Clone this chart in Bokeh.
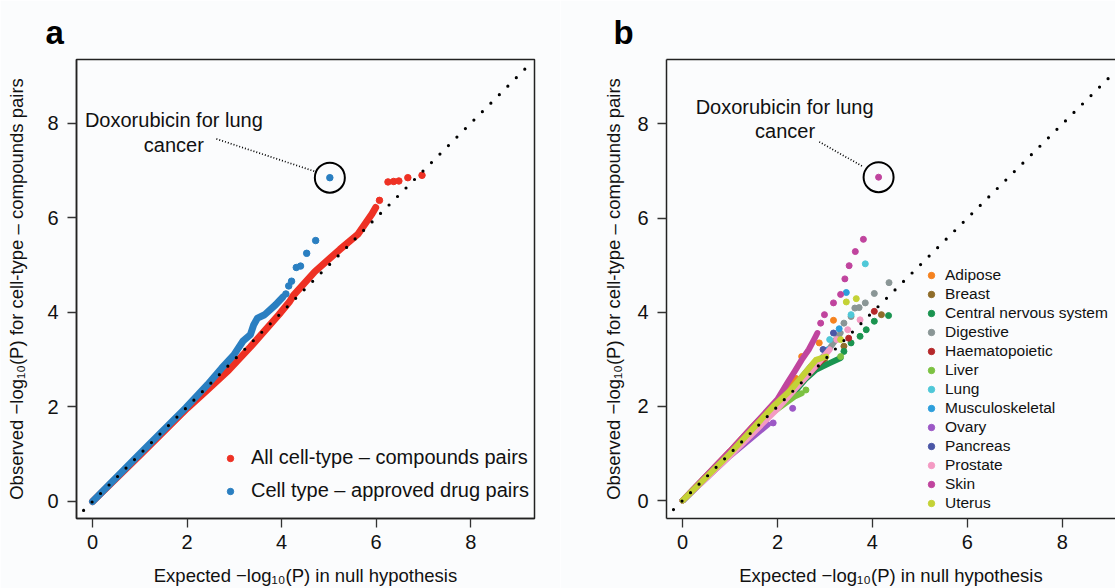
from bokeh.plotting import figure
from bokeh.layouts import row
from bokeh.models import Range1d, Legend, LegendItem, LinearAxis, FixedTicker
from bokeh.core.properties import value
from bokeh.embed import file_html
from bokeh.resources import INLINE

FONT = "Liberation Sans"
BG = "#fbfcfd"
TICKS = [0, 2, 4, 6, 8]
DIAG = [-0.19, 9.23]
YLABEL = "Observed \u2212log\u2081\u2080(P) for cell-type \u2013 compounds pairs"
XLABEL = "Expected \u2212log\u2081\u2080(P) in null hypothesis"

# ---------------- Panel a data ----------------
all_line_x = [0, 1.0, 2.0, 2.43, 2.88, 3.34, 3.94, 4.17, 4.25, 4.70, 5.23, 5.61, 5.91, 5.99]
all_line_y = [0, 0.98, 1.97, 2.36, 2.78, 3.27, 3.95, 4.23, 4.36, 4.86, 5.33, 5.65, 6.08, 6.22]
all_pts_x = [6.07, 6.25, 6.37, 6.48, 6.67, 6.97]
all_pts_y = [6.37, 6.76, 6.77, 6.78, 6.85, 6.90]

drug_line_x = [0, 1.0, 1.97, 2.43, 2.73, 2.99, 3.18, 3.34, 3.41, 3.49, 3.64, 3.87, 4.02]
drug_line_y = [0, 1.01, 1.98, 2.47, 2.82, 3.10, 3.39, 3.53, 3.74, 3.88, 3.95, 4.16, 4.32]
drug_pts_x = [4.09, 4.15, 4.21, 4.31, 4.40, 4.53, 4.72, 5.02]
drug_pts_y = [4.39, 4.56, 4.66, 4.95, 4.98, 5.25, 5.52, 6.85]

dox_a = (5.02, 6.85)
ann_a_x = [1.72, 1.72]
ann_a_y = [8.07, 7.55]
lead_a_x = [2.62, 4.74]
lead_a_y = [7.67, 6.97]

# ---------------- Panel b data ----------------
tissues = ["Adipose", "Breast", "Central nervous system", "Digestive", "Haematopoietic",
           "Liver", "Lung", "Musculoskeletal", "Ovary", "Pancreas", "Prostate", "Skin", "Uterus"]
colors = ["#f5821f", "#8f6d2a", "#1a9450", "#8a9696", "#b5282a", "#7cc242", "#4fc8d8",
          "#2d9fdc", "#9c58c6", "#4a56a6", "#f49ac3", "#c0449e", "#c4d236"]

dense_x = [
    [0, 1.0, 1.5, 2.0, 2.4],
    [0, 1.5, 2.5, 3.0],
    [0, 1.0, 2.0, 2.28, 2.58, 2.81, 3.10, 3.33],
    [0, 2.0, 3.0, 3.33],
    [0, 2.0, 3.0],
    [0, 1.8, 2.36, 2.51],
    [0, 2.0, 2.8],
    [0, 2.0, 2.9],
    [0, 1.0, 1.8],
    [0, 2.0, 2.7],
    [0, 1.0, 2.0, 2.8, 3.1],
    [0, 1.0, 1.5, 2.0, 2.21, 2.36, 2.51, 2.66, 2.77, 2.84],
    [0, 1.0, 1.91, 2.28, 2.58, 2.81, 3.03],
]
dense_y = [
    [0, 1.05, 1.6, 2.1, 2.6],
    [0, 1.5, 2.55, 3.0],
    [0, 1.0, 2.0, 2.21, 2.57, 2.78, 2.92, 3.03],
    [0, 2.05, 3.1, 3.56],
    [0, 2.0, 3.05],
    [0, 1.8, 2.21, 2.28],
    [0, 2.05, 2.9],
    [0, 2.0, 3.0],
    [0, 0.95, 1.62],
    [0, 2.0, 2.85],
    [0, 0.95, 1.95, 2.85, 3.21],
    [0, 1.05, 1.6, 2.15, 2.50, 2.74, 2.99, 3.21, 3.42, 3.56],
    [0, 1.0, 2.0, 2.35, 2.71, 2.99, 3.06],
]
tail_x = [
    [2.51, 2.88, 3.18],
    [3.40, 4.19],
    [3.40, 3.55, 3.74, 3.87, 4.04, 4.34],
    [3.40, 3.55, 3.63, 3.72, 3.85, 4.04, 4.35],
    [3.50, 4.04],
    [2.60, 3.33],
    [3.10, 3.55, 3.85],
    [3.05, 3.30, 3.45],
    [1.91, 2.32],
    [2.96, 3.18],
    [3.25, 3.48, 3.74],
    [2.91, 2.99, 3.18, 3.33, 3.42, 3.51, 3.64, 3.81, 4.13],
    [3.33, 3.45, 3.66],
]
tail_y = [
    [3.06, 3.35, 3.83],
    [3.28, 3.95],
    [3.17, 3.35, 3.49, 3.63, 3.81, 3.93],
    [3.77, 3.91, 4.09, 4.10, 4.20, 4.40, 4.63],
    [3.45, 4.02],
    [2.35, 3.06],
    [3.42, 3.95, 5.03],
    [3.20, 3.65, 4.42],
    [1.65, 1.96],
    [3.21, 3.56],
    [3.42, 3.63, 3.84],
    [3.77, 3.95, 4.20, 4.38, 4.71, 4.99, 5.29, 5.55, 6.87],
    [3.42, 4.22, 4.29],
]
dox_b = (4.13, 6.87)
ann_b_x = [2.15, 2.16]
ann_b_y = [8.36, 7.86]
lead_b_x = [2.88, 3.81]
lead_b_y = [7.62, 7.09]

ANN_TEXT = ["Doxorubicin for lung", "cancer"]


def style(p, ylab_standoff):
    p.xgrid.visible = False
    p.ygrid.visible = False
    for ax in (p.xaxis[0], p.yaxis[0]):
        ax.ticker = FixedTicker(ticks=TICKS)
        ax.major_tick_in = 0
        ax.major_tick_out = 9
        ax.major_tick_line_color = "#333333"
        ax.major_tick_line_width = 1.3
        ax.minor_tick_line_color = None
        ax.axis_line_color = "#222222"
        ax.axis_line_width = 1.5
        ax.major_label_text_font = FONT
        ax.major_label_text_font_size = "20px"
        ax.major_label_text_color = "#111111"
        ax.axis_label_text_font = FONT
        ax.axis_label_text_font_size = "18.5px"
        ax.axis_label_text_font_style = "normal"
        ax.axis_label_text_color = "#111111"
    p.xaxis[0].axis_label = XLABEL
    p.yaxis[0].axis_label = YLABEL
    p.xaxis[0].major_label_standoff = 7
    p.xaxis[0].axis_label_standoff = 13
    p.yaxis[0].major_label_standoff = 9
    p.yaxis[0].axis_label_standoff = ylab_standoff
    p.title.text_font = FONT
    p.title.text_font_size = "33px"
    p.title.text_font_style = "bold"
    p.title.align = "left"
    p.title.text_color = "#000000"
    p.title.standoff = 17


def diag(p):
    p.line(DIAG, DIAG, line_color="black", line_width=3.2, line_dash="0 12", line_cap="round")


def annotate(p, dox, ax_, ay_, lx, ly):
    p.line(lx, ly, line_color="black", line_width=1.7, line_dash="1 2")
    p.scatter([dox[0]], [dox[1]], size=30, fill_color=None, line_color="black", line_width=2)
    p.text(ax_, ay_, text=ANN_TEXT, text_align="center", text_baseline="middle",
           text_font=value(FONT), text_font_size="20px", text_color="#111111")


# ---------------- Panel a ----------------
pa = figure(width=560, height=588, title="a",
            x_range=Range1d(-0.34, 9.35), y_range=Range1d(-0.36, 9.35),
            output_backend="svg", toolbar_location=None,
            min_border_left=76, min_border_right=26, min_border_top=59, min_border_bottom=70,
            background_fill_color=BG, border_fill_color=BG)
style(pa, 17)
pa.outline_line_color = "#222222"
pa.outline_line_width = 1.5
pa.title.offset = -31

RED = "#ee3124"
BLUE = "#2a7fc1"
pa.line(all_line_x, all_line_y, line_color=RED, line_width=7, line_cap="round", line_join="round")
r_red = pa.scatter(all_pts_x, all_pts_y, size=6.5, color=RED)
pa.line(drug_line_x, drug_line_y, line_color=BLUE, line_width=7, line_cap="round", line_join="round")
r_blue = pa.scatter(drug_pts_x, drug_pts_y, size=6.5, color=BLUE)
diag(pa)
annotate(pa, dox_a, ann_a_x, ann_a_y, lead_a_x, lead_a_y)

leg_a = Legend(items=[LegendItem(label="All cell-type \u2013 compounds pairs", renderers=[r_red]),
                      LegendItem(label="Cell type \u2013 approved drug pairs", renderers=[r_blue])],
               location=(146, 16), padding=0, margin=0, spacing=10,
               glyph_width=16, glyph_height=22, label_height=22, label_standoff=13,
               label_text_font=FONT, label_text_font_size="20px", label_text_color="#111111",
               background_fill_alpha=0, border_line_color=None)
pa.add_layout(leg_a)

# ---------------- Panel b ----------------
pb = figure(width=555, height=588, title="b",
            x_range=Range1d(-0.337, 9.12), y_range=Range1d(-0.38, 9.37),
            output_backend="svg", toolbar_location=None,
            min_border_left=106, min_border_right=0, min_border_top=58, min_border_bottom=67,
            background_fill_color=BG, border_fill_color=BG)
style(pb, 10)
pb.outline_line_color = None
pb.title.offset = -53
top_axis = LinearAxis(ticker=FixedTicker(ticks=[]), major_label_text_font_size="0px",
                      major_tick_line_color=None, minor_tick_line_color=None,
                      axis_line_color="#222222", axis_line_width=1.5)
pb.add_layout(top_axis, "above")

items_b = []
for name, c, dx, dy, tx, ty in zip(tissues, colors, dense_x, dense_y, tail_x, tail_y):
    pb.line(dx, dy, line_color=c, line_width=6, line_cap="round", line_join="round")
    r = pb.scatter(tx, ty, size=6, color=c)
    items_b.append(LegendItem(label=name, renderers=[r]))
diag(pb)
annotate(pb, dox_b, ann_b_x, ann_b_y, lead_b_x, lead_b_y)

leg_b = Legend(items=items_b, location=(257, 6), padding=0, margin=0, spacing=1,
               glyph_width=16, glyph_height=16, label_height=16, label_standoff=6,
               label_text_font=FONT, label_text_font_size="15.5px", label_text_color="#111111",
               background_fill_alpha=0, border_line_color=None)
pb.add_layout(leg_b)

layout = row(pa, pb)
open("out.html", "w").write(file_html(layout, INLINE))
